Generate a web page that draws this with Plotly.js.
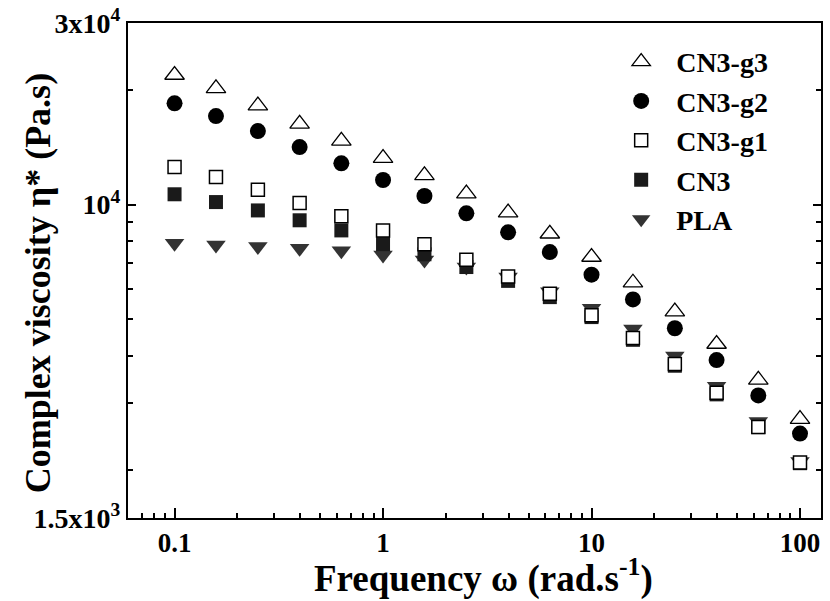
<!DOCTYPE html>
<html>
<head>
<meta charset="utf-8">
<script src="https://cdn.plot.ly/plotly-3.0.1.min.js"></script>
<style>html,body{margin:0;padding:0;background:#fff;}#chart{width:830px;height:601px;}</style>
</head>
<body>
<div id="chart"></div>
<script>
// Frequency (rad/s)
const freq = [0.1, 0.158, 0.251, 0.398, 0.631, 1, 1.58, 2.51, 3.98, 6.31, 10, 15.8, 25.1, 39.8, 63.1, 100];
// Complex viscosity (Pa.s)
const cn3g3 = [21900, 20200, 18200, 16300, 14700, 13250, 11930, 10680, 9520, 8380, 7280, 6230, 5230, 4300, 3460, 2730];
const cn3g2 = [18450, 17080, 15600, 14160, 12830, 11600, 10530, 9480, 8450, 7500, 6540, 5630, 4730, 3900, 3150, 2500];
const cn3g1 = [12550, 11810, 10940, 10090, 9310, 8550, 7860, 7160, 6470, 5830, 5120, 4460, 3810, 3200, 2600, 2100];
const cn3 = [10640, 10150, 9650, 9090, 8550, 7870, 7400, 6850, 6300, 5710, 5060, 4410, 3770, 3170, 2600, 2090];
const pla = [7910, 7830, 7760, 7670, 7560, 7370, 7150, 6850, 6450, 5900, 5340, 4710, 4000, 3330, 2690, 2110];

const seriesNames = ['PLA', 'CN3', 'CN3-g1', 'CN3-g2', 'CN3-g3'];
const xTickVals = [0.1, 1, 10, 100];
const xTickText = ['0.1', '1', '10', '100'];
const xMinorVals = [0.07, 0.08, 0.09, 0.2, 0.3, 0.4, 0.5, 0.6, 0.7, 0.8, 0.9, 2, 3, 4, 5, 6, 7, 8, 9, 20, 30, 40, 50, 60, 70, 80, 90];
const yTickVals = [1500, 10000, 30000];
const yTickText = ['<b>1.5x10<sup>3</sup></b>', '<b>10<sup>4</sup></b>', '<b>3x10<sup>4</sup></b>'];
const yMinorVals = [2000, 3000, 4000, 5000, 6000, 7000, 8000, 9000, 20000];
const xTitle = 'Frequency ω (rad.s<sup>-1</sup>)';
const yTitle = 'Complex viscosity η* (Pa.s)';

const FONT = 'Liberation Serif, Times New Roman, serif';

const traces = [
  {x: freq, y: pla, name: seriesNames[0], mode: 'markers', type: 'scatter',
   marker: {symbol: 'triangle-down', size: 17, color: '#333333', line: {width: 0}}},
  {x: freq, y: cn3, name: seriesNames[1], mode: 'markers', type: 'scatter',
   marker: {symbol: 'square', size: 14, color: '#1a1a1a', line: {width: 0}}},
  {x: freq, y: cn3g1, name: seriesNames[2], mode: 'markers', type: 'scatter',
   marker: {symbol: 'square', size: 13, color: '#ffffff', line: {width: 1.5, color: '#000000'}}},
  {x: freq, y: cn3g2, name: seriesNames[3], mode: 'markers', type: 'scatter',
   marker: {symbol: 'circle', size: 16, color: '#000000', line: {width: 0}}},
  {x: freq, y: cn3g3, name: seriesNames[4], mode: 'markers', type: 'scatter',
   marker: {symbol: 'triangle-up', size: 17, color: '#ffffff', line: {width: 1.3, color: '#000000'}}}
];

const layout = {
  width: 830, height: 601,
  margin: {l: 128, r: 9, t: 23, b: 83, pad: 0},
  paper_bgcolor: '#ffffff', plot_bgcolor: '#ffffff',
  font: {family: FONT, color: '#000000', weight: 'bold'},
  showlegend: true,
  legend: {
    x: 0.69, y: 0.972, xanchor: 'left', yanchor: 'top',
    traceorder: 'reversed',
    itemwidth: 60,
    bgcolor: 'rgba(0,0,0,0)',
    font: {family: FONT, size: 28, color: '#000000', weight: 'bold'}
  },
  xaxis: {
    type: 'log',
    range: [Math.log10(0.0598), Math.log10(126.1)],
    tickmode: 'array', tickvals: xTickVals, ticktext: xTickText,
    ticks: 'inside', ticklen: 10, tickwidth: 2, tickcolor: '#000',
    minor: {tickmode: 'array', tickvals: xMinorVals, ticks: 'inside', ticklen: 5, tickwidth: 2, tickcolor: '#000', showgrid: false},
    showline: true, linecolor: '#000', linewidth: 2, mirror: true,
    showgrid: false, zeroline: false,
    tickfont: {family: FONT, size: 27, color: '#000', weight: 'bold'}
  },
  yaxis: {
    type: 'log',
    range: [Math.log10(1500), Math.log10(30000)],
    tickmode: 'array', tickvals: yTickVals, ticktext: yTickText,
    ticks: 'inside', ticklen: 8, tickwidth: 2, tickcolor: '#000',
    minor: {tickmode: 'array', tickvals: yMinorVals, ticks: 'inside', ticklen: 5, tickwidth: 2, tickcolor: '#000', showgrid: false},
    showline: true, linecolor: '#000', linewidth: 2, mirror: 'ticks',
    showgrid: false, zeroline: false,
    tickfont: {family: FONT, size: 28, color: '#000', weight: 'bold'}
  },
  annotations: [
    {text: '<b>' + xTitle + '</b>', xref: 'paper', yref: 'paper', x: 0.5137, y: -0.117,
     xanchor: 'center', yanchor: 'middle', showarrow: false,
     font: {family: FONT, size: 37, color: '#000', weight: 'bold'}},
    {text: '<b>' + yTitle + '</b>', xref: 'paper', yref: 'paper', x: -0.13, y: 0.474,
     xanchor: 'center', yanchor: 'middle', showarrow: false, textangle: -90,
     font: {family: FONT, size: 36, color: '#000', weight: 'bold'}}
  ]
};

Plotly.newPlot('chart', traces, layout, {displayModeBar: false, staticPlot: true});
</script>
</body>
</html>
